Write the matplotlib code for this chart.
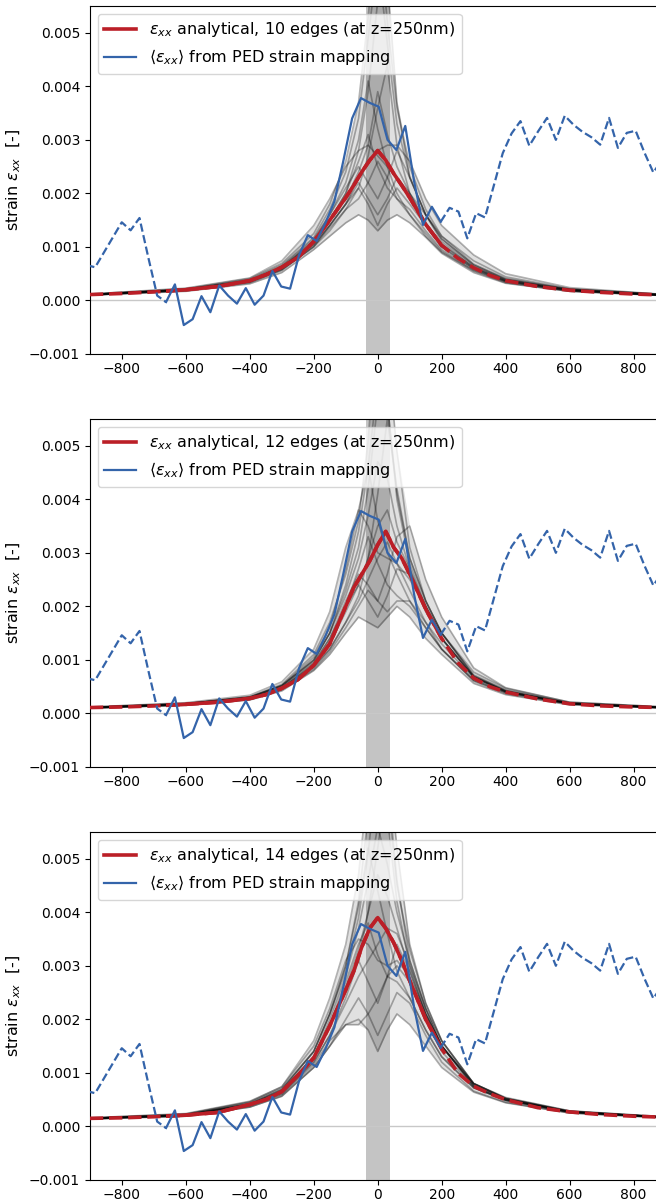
import numpy as np
import matplotlib
matplotlib.use("Agg")
from matplotlib import pyplot as plt
from matplotlib.patches import Rectangle

## all strain values below are in units of 1e-3

## PED line scan (same measurement drawn in every panel)
ped_x = [-911.1, -883.4, -855.7, -828.0, -800.3, -772.6, -744.9, -717.2, -689.5, -661.8,
         -634.1, -606.4, -578.7, -551.0, -523.3, -495.6, -467.9, -440.2, -412.5, -384.8,
         -357.1, -329.4, -301.7, -274.0, -246.3, -218.6, -190.9, -163.2, -135.5, -107.8,
         -80.1, -52.4, -24.7, 3.0, 30.7, 58.4, 86.1, 113.8, 141.5, 169.2,
         196.9, 224.6, 252.3, 280.0, 307.7, 335.4, 363.1, 390.8, 418.5, 446.2,
         473.9, 501.6, 529.3, 557.0, 584.7, 612.4, 640.1, 667.8, 695.5, 723.2,
         750.9, 778.6, 806.3, 834.0, 861.7, 889.4]
ped_strain = [0.66, 0.62, 0.90, 1.18, 1.46, 1.31, 1.54, 0.80, 0.09, -0.03,
              0.30, -0.46, -0.35, 0.08, -0.22, 0.28, 0.09, -0.06, 0.23, -0.08,
              0.09, 0.55, 0.26, 0.22, 0.84, 1.22, 1.11, 1.45, 1.85, 2.60,
              3.40, 3.78, 3.69, 3.62, 3.00, 2.81, 3.26, 2.22, 1.41, 1.75,
              1.47, 1.73, 1.66, 1.16, 1.63, 1.55, 2.15, 2.75, 3.12, 3.35,
              2.89, 3.16, 3.41, 3.00, 3.45, 3.28, 3.15, 3.05, 2.91, 3.41,
              2.85, 3.13, 3.17, 2.76, 2.39, 2.63]
ped_solid_first = 9    ## index range of the reliable part of the scan
ped_solid_last = 40

defect_band = (-37.5, 37.5)
edge_counts = [10, 12, 14]

## analytical mean strain at z=250nm
model_x = [-900, -800, -700, -600, -500, -400, -350, -300, -250, -200, -150, -100, -75, -50, -25,
           0, 25, 50, 75, 100, 150, 200, 250, 300, 350, 400, 500, 600, 700, 800, 900]
model_10 = [0.11, 0.13, 0.16, 0.20, 0.26, 0.37, 0.48, 0.62, 0.80, 1.10, 1.50, 1.92, 2.15, 2.40, 2.62,
            2.80, 2.62, 2.37, 2.15, 1.92, 1.42, 1.03, 0.79, 0.61, 0.47, 0.37, 0.26, 0.19, 0.15, 0.12, 0.10]
model_12 = [0.11, 0.12, 0.14, 0.17, 0.21, 0.28, 0.35, 0.47, 0.63, 0.90, 1.30, 2.00, 2.35, 2.60, 2.85,
            3.15, 3.40, 3.10, 2.90, 2.60, 1.95, 1.40, 0.95, 0.66, 0.50, 0.40, 0.27, 0.18, 0.14, 0.12, 0.11]
model_14 = [0.15, 0.16, 0.18, 0.21, 0.26, 0.41, 0.50, 0.65, 0.95, 1.28, 1.88, 2.55, 2.90, 3.35, 3.70,
            3.90, 3.70, 3.43, 3.10, 2.72, 2.00, 1.45, 1.00, 0.75, 0.61, 0.50, 0.35, 0.27, 0.22, 0.19, 0.17]

## individual random-position realisations (grey fan)
gray_x = [-900, -600, -400, -300, -200, -150, -100, -60, -30, 0, 30, 60, 100, 150, 200, 300, 400, 600, 900]
gray_10 = [
    [0.11, 0.21, 0.39, 0.66, 1.18, 1.70, 2.40, 3.40, 4.90, 6.40, 4.80, 3.30, 2.30, 1.60, 1.15, 0.66, 0.40, 0.21, 0.11],
    [0.10, 0.17, 0.31, 0.52, 0.95, 1.20, 1.45, 1.60, 1.50, 1.30, 1.50, 1.60, 1.45, 1.18, 0.88, 0.52, 0.32, 0.17, 0.09],
    [0.11, 0.20, 0.37, 0.62, 1.12, 1.60, 2.20, 3.00, 4.10, 3.20, 2.50, 2.00, 1.60, 1.20, 0.90, 0.56, 0.35, 0.18, 0.09],
    [0.10, 0.19, 0.35, 0.58, 1.00, 1.30, 1.70, 2.10, 2.70, 3.60, 4.40, 2.90, 2.00, 1.45, 1.05, 0.62, 0.38, 0.20, 0.10],
    [0.12, 0.23, 0.42, 0.74, 1.40, 1.90, 2.50, 2.80, 2.90, 2.70, 2.50, 2.30, 2.00, 1.60, 1.20, 0.74, 0.44, 0.22, 0.11],
    [0.10, 0.19, 0.34, 0.57, 1.00, 1.40, 1.80, 2.20, 1.90, 1.60, 1.90, 2.30, 1.90, 1.40, 1.00, 0.60, 0.36, 0.19, 0.09],
    [0.11, 0.20, 0.37, 0.62, 1.10, 1.50, 2.00, 2.80, 3.90, 5.60, 6.00, 3.70, 2.30, 1.60, 1.15, 0.66, 0.39, 0.20, 0.10],
    [0.11, 0.20, 0.36, 0.60, 1.08, 1.50, 2.00, 2.60, 3.10, 2.50, 2.10, 1.90, 1.70, 1.30, 0.95, 0.58, 0.35, 0.18, 0.09],
    [0.10, 0.18, 0.33, 0.56, 1.02, 1.35, 1.70, 1.90, 2.20, 2.60, 2.30, 1.90, 1.60, 1.25, 0.92, 0.55, 0.33, 0.17, 0.09],
    [0.11, 0.21, 0.38, 0.64, 1.15, 1.60, 2.10, 2.50, 2.20, 1.90, 2.30, 2.80, 2.30, 1.60, 1.10, 0.63, 0.38, 0.20, 0.10],
    [0.11, 0.20, 0.37, 0.61, 1.08, 1.48, 1.90, 2.40, 2.90, 3.90, 3.10, 2.50, 2.00, 1.45, 1.05, 0.61, 0.37, 0.19, 0.10],
    [0.12, 0.22, 0.41, 0.69, 1.25, 1.80, 2.60, 3.70, 5.30, 7.20, 5.20, 3.60, 2.50, 1.70, 1.20, 0.68, 0.41, 0.21, 0.11],
    [0.11, 0.20, 0.36, 0.60, 1.05, 1.40, 1.80, 2.30, 2.60, 2.80, 2.90, 2.90, 2.60, 1.90, 1.40, 0.85, 0.50, 0.24, 0.11],
    [0.10, 0.19, 0.35, 0.59, 1.05, 1.40, 1.80, 2.10, 1.80, 1.40, 1.80, 2.10, 1.80, 1.40, 1.00, 0.59, 0.36, 0.19, 0.09],
]
gray_12 = [
    [0.11, 0.18, 0.31, 0.52, 0.98, 1.50, 2.40, 3.40, 4.60, 6.20, 5.80, 4.10, 2.90, 2.10, 1.50, 0.72, 0.44, 0.20, 0.11],
    [0.10, 0.15, 0.25, 0.42, 0.80, 1.10, 1.50, 1.80, 1.70, 1.60, 1.80, 2.00, 1.80, 1.40, 1.10, 0.56, 0.35, 0.16, 0.10],
    [0.11, 0.18, 0.30, 0.52, 1.05, 1.60, 2.70, 3.80, 4.60, 3.60, 3.00, 2.60, 2.10, 1.60, 1.20, 0.62, 0.39, 0.18, 0.10],
    [0.10, 0.16, 0.27, 0.45, 0.85, 1.20, 1.70, 2.20, 2.90, 4.10, 5.50, 4.20, 2.90, 2.10, 1.50, 0.70, 0.43, 0.19, 0.11],
    [0.12, 0.20, 0.34, 0.59, 1.20, 1.90, 3.10, 3.80, 3.50, 3.00, 2.90, 2.80, 2.50, 2.00, 1.50, 0.77, 0.47, 0.21, 0.12],
    [0.10, 0.17, 0.28, 0.47, 0.90, 1.30, 1.90, 2.40, 2.10, 1.80, 2.20, 2.70, 2.60, 2.00, 1.40, 0.68, 0.41, 0.18, 0.11],
    [0.11, 0.18, 0.30, 0.51, 1.00, 1.50, 2.30, 3.10, 4.20, 5.80, 6.80, 4.90, 3.10, 2.10, 1.50, 0.70, 0.42, 0.19, 0.11],
    [0.11, 0.17, 0.28, 0.47, 0.90, 1.30, 2.00, 2.70, 3.30, 2.80, 2.40, 2.20, 2.00, 1.60, 1.20, 0.62, 0.39, 0.18, 0.10],
    [0.10, 0.16, 0.26, 0.45, 0.88, 1.20, 1.70, 2.10, 2.50, 2.90, 3.20, 2.80, 2.30, 1.70, 1.20, 0.60, 0.37, 0.17, 0.10],
    [0.11, 0.18, 0.29, 0.49, 0.95, 1.40, 2.10, 2.60, 2.40, 2.10, 2.60, 3.30, 3.50, 2.50, 1.80, 0.85, 0.48, 0.21, 0.12],
    [0.12, 0.19, 0.31, 0.54, 1.10, 1.70, 2.60, 3.60, 5.10, 7.50, 5.80, 4.00, 2.80, 2.00, 1.40, 0.68, 0.41, 0.19, 0.11],
    [0.11, 0.17, 0.28, 0.48, 0.93, 1.40, 2.00, 2.40, 2.90, 3.50, 3.80, 3.20, 2.70, 2.00, 1.40, 0.68, 0.41, 0.18, 0.11],
    [0.10, 0.16, 0.26, 0.44, 0.82, 1.15, 1.60, 2.00, 2.30, 2.10, 1.90, 2.10, 2.10, 1.70, 1.30, 0.65, 0.40, 0.18, 0.10],
    [0.11, 0.18, 0.30, 0.52, 1.00, 1.50, 2.20, 2.90, 3.70, 4.70, 4.40, 3.50, 2.70, 1.90, 1.40, 0.68, 0.41, 0.19, 0.11],
]
gray_14 = [
    [0.15, 0.23, 0.45, 0.71, 1.40, 2.10, 3.00, 4.20, 5.80, 7.50, 5.80, 4.20, 3.00, 2.10, 1.50, 0.80, 0.53, 0.29, 0.17],
    [0.14, 0.19, 0.36, 0.56, 1.10, 1.50, 1.90, 2.00, 1.80, 1.40, 1.80, 2.10, 1.90, 1.50, 1.10, 0.64, 0.44, 0.25, 0.16],
    [0.15, 0.21, 0.42, 0.68, 1.40, 2.10, 3.00, 4.10, 5.20, 4.40, 3.60, 2.90, 2.40, 1.80, 1.30, 0.72, 0.49, 0.27, 0.17],
    [0.14, 0.21, 0.40, 0.63, 1.20, 1.70, 2.40, 3.10, 4.00, 5.20, 6.50, 4.60, 3.10, 2.20, 1.60, 0.80, 0.52, 0.28, 0.17],
    [0.16, 0.24, 0.47, 0.74, 1.50, 2.20, 3.10, 3.50, 3.40, 3.10, 3.00, 3.10, 2.80, 2.10, 1.50, 0.80, 0.54, 0.29, 0.18],
    [0.14, 0.20, 0.39, 0.60, 1.15, 1.60, 1.90, 1.90, 2.10, 2.40, 2.80, 3.00, 2.70, 2.00, 1.40, 0.73, 0.49, 0.27, 0.17],
    [0.15, 0.22, 0.43, 0.69, 1.40, 2.10, 2.90, 3.90, 5.10, 6.80, 7.10, 5.20, 3.40, 2.30, 1.60, 0.80, 0.52, 0.28, 0.17],
    [0.15, 0.21, 0.41, 0.65, 1.30, 1.90, 2.70, 3.40, 3.80, 3.20, 2.80, 2.70, 2.40, 1.80, 1.30, 0.72, 0.49, 0.27, 0.17],
    [0.14, 0.20, 0.38, 0.60, 1.20, 1.70, 2.30, 2.80, 3.10, 3.40, 3.70, 3.60, 3.00, 2.20, 1.50, 0.74, 0.48, 0.26, 0.16],
    [0.15, 0.21, 0.41, 0.65, 1.30, 1.90, 2.60, 3.10, 2.70, 2.30, 2.80, 3.40, 2.90, 2.10, 1.50, 0.76, 0.50, 0.27, 0.17],
    [0.16, 0.23, 0.46, 0.74, 1.60, 2.40, 3.40, 4.70, 6.40, 8.20, 6.20, 4.50, 3.30, 2.30, 1.60, 0.80, 0.52, 0.28, 0.18],
    [0.15, 0.21, 0.41, 0.65, 1.30, 1.90, 2.60, 3.30, 4.00, 4.70, 4.30, 3.70, 2.90, 2.10, 1.50, 0.76, 0.50, 0.27, 0.17],
    [0.14, 0.19, 0.36, 0.57, 1.10, 1.50, 2.00, 2.40, 2.10, 1.70, 2.10, 2.50, 2.30, 1.70, 1.20, 0.66, 0.45, 0.25, 0.16],
    [0.15, 0.22, 0.42, 0.67, 1.30, 2.00, 2.80, 3.70, 4.60, 5.60, 4.90, 4.00, 3.10, 2.20, 1.50, 0.77, 0.51, 0.27, 0.17],
]

models = [model_10, model_12, model_14]
grays = [gray_10, gray_12, gray_14]

red = '#bb1f27'
blue = '#3464aa'

plt.rcParams['font.size'] = 10
plt.rcParams['xtick.major.pad'] = 2.5
fig = plt.figure(figsize=(6.56, 12.04), dpi=100)
bottoms = [0.706, 0.363, 0.0200]

px = np.array(ped_x)
py = np.array(ped_strain) * 1e-3
x_lo = ped_x[ped_solid_first]
x_hi = ped_x[ped_solid_last]

for n, model, gray, bottom in zip(edge_counts, models, grays, bottoms):
    ax = fig.add_axes([0.137, bottom, 0.863, 0.289])

    ax.axvspan(defect_band[0], defect_band[1], color='#c4c4c4', lw=0, zorder=1)
    ax.axhline(0, color='#c8c8c8', lw=1.0, zorder=1)

    ## grey fan: shaded spread of the realisations plus each one as a thin line
    g = np.array(gray) * 1e-3
    ax.fill_between(gray_x, g.min(axis=0), g.max(axis=0), color='k', alpha=0.12, lw=0, zorder=2)
    for curve in g:
        ax.plot(gray_x, curve, color='k', alpha=0.3, lw=1.2, zorder=2)

    my = np.array(model) * 1e-3
    ax.plot(model_x, my, color=red, lw=2.6, ls='--', zorder=3)
    red_line, = ax.plot(model_x, my, color=red, lw=2.6, zorder=3,
                        label=r'$\varepsilon_{xx}$ analytical, %d edges (at z=250nm)' % n)
    ## solid only over the measured window
    red_line.set_clip_path(Rectangle((x_lo, -0.001), x_hi - x_lo, 0.0065, transform=ax.transData))

    ax.plot(px[:ped_solid_first + 1], py[:ped_solid_first + 1], color=blue, lw=1.6, ls='--', zorder=4)
    ax.plot(px[ped_solid_last:], py[ped_solid_last:], color=blue, lw=1.6, ls='--', zorder=4)
    blue_line, = ax.plot(px[ped_solid_first:ped_solid_last + 1], py[ped_solid_first:ped_solid_last + 1],
                         color=blue, lw=1.6, zorder=4,
                         label=r'$\langle\varepsilon_{xx}\rangle$ from PED strain mapping')

    ax.set_xlim(-900, 870)
    ax.set_ylim(-0.001, 0.0055)
    ax.set_xticks([-800, -600, -400, -200, 0, 200, 400, 600, 800])
    ax.set_yticks([-0.001, 0.0, 0.001, 0.002, 0.003, 0.004, 0.005])
    ax.set_yticklabels(['\u22120.001', '0.000', '0.001', '0.002', '0.003', '0.004', '0.005'])
    ax.spines['right'].set_visible(False)
    ax.set_ylabel(r'strain $\varepsilon_{xx}$  [-]', fontsize=11.5)
    ax.legend(handles=[red_line, blue_line], loc='upper left', fontsize=11.5, framealpha=0.8)

fig.savefig('out.png', dpi=100)
